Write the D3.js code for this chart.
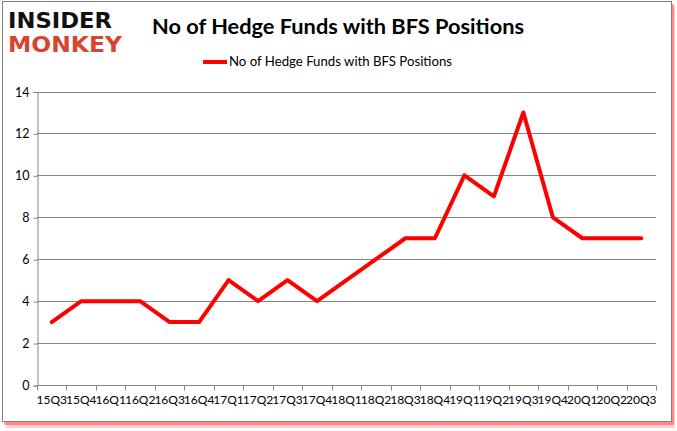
<!DOCTYPE html>
<html><head><meta charset="utf-8">
<script src="https://cdn.jsdelivr.net/npm/d3@7"></script>
<style>body{margin:0;background:#fff}svg{display:block}</style>
</head><body>
<script>
const categories = ["15Q3","15Q4","16Q1","16Q2","16Q3","16Q4","17Q1","17Q2","17Q3","17Q4","18Q1","18Q2","18Q3","18Q4","19Q1","19Q2","19Q3","19Q4","20Q1","20Q2","20Q3"];
const values = [3,4,4,4,3,3,5,4,5,4,5,6,7,7,10,9,13,8,7,7,7];
const yTicks = [0,2,4,6,8,10,12,14];
const title = "No of Hedge Funds with BFS Positions";
const seriesName = "No of Hedge Funds with BFS Positions";

const W = 677, H = 431;
const svg = d3.select("body").append("svg").attr("width", W).attr("height", H);
const font = "Lato, 'Open Sans', sans-serif";

// shadow + frame
svg.append("rect").attr("x",6).attr("y",6).attr("width",669).attr("height",422).attr("fill","#ffb0b0").attr("opacity",0.6);
svg.append("rect").attr("x",4).attr("y",4).attr("width",670).attr("height",421).attr("fill","#ff3030").attr("opacity",0.45);
svg.append("rect").attr("x",2.5).attr("y",1.5).attr("width",669).attr("height",420).attr("fill","#fff").attr("stroke","#808080").attr("stroke-width",1);

// logo
svg.append("text").attr("x",8).attr("y",28).attr("font-family","'DejaVu Sans', sans-serif").attr("font-weight","bold")
  .attr("font-size",22).attr("textLength",104).attr("lengthAdjust","spacingAndGlyphs").attr("fill","#111").text("INSIDER");
svg.append("text").attr("x",8).attr("y",52).attr("font-family","'DejaVu Sans', sans-serif").attr("font-weight","bold")
  .attr("font-size",22).attr("textLength",114).attr("lengthAdjust","spacingAndGlyphs").attr("fill","#d9442e").text("MONKEY");

// title
svg.append("text").attr("x",152).attr("y",34).attr("font-family",font)
  .attr("font-weight","bold").attr("font-size",21.5).attr("textLength",372).attr("lengthAdjust","spacingAndGlyphs")
  .attr("fill","#000").text(title);

const x = d3.scaleBand().domain(categories).range([37,656]);
const y = d3.scaleLinear().domain([0,14]).range([385,91.5]);

// legend
svg.append("line").attr("x1",203).attr("x2",227).attr("y1",62).attr("y2",62).attr("stroke","#ff0000").attr("stroke-width",4);
svg.append("text").attr("x",229).attr("y",66).attr("font-family",font).attr("font-size",12.5)
  .attr("textLength",223).attr("lengthAdjust","spacingAndGlyphs").attr("fill","#000").text(seriesName);

// grid
svg.append("g").selectAll("line").data(yTicks.filter(d=>d>0)).join("line")
  .attr("x1",37).attr("x2",656).attr("y1",d=>Math.round(y(d))+0.5).attr("y2",d=>Math.round(y(d))+0.5)
  .attr("stroke","#868686").attr("stroke-width",1);

// y axis
const ya = svg.append("g").attr("transform","translate(37.5,0.5)")
  .call(d3.axisLeft(y).tickValues(yTicks).tickSize(4).tickPadding(4).tickFormat(d3.format("d")));
ya.select(".domain").attr("stroke","#868686");
ya.selectAll(".tick line").attr("stroke","#868686");
ya.selectAll("text").attr("font-family",font).attr("font-size",12.5).attr("fill","#000");

// x axis
const xa = svg.append("g").attr("transform","translate(0,385.5)")
  .call(d3.axisBottom(x).tickSize(0).tickPadding(10));
xa.select(".domain").attr("stroke","#868686").attr("d","M37,0H656");
xa.selectAll("text").attr("font-family",font).attr("font-size",12).attr("fill","#000");
const edges = categories.map(c=>x(c)).concat([656]);
xa.append("g").selectAll("line").data(edges).join("line")
  .attr("x1",d=>Math.round(d)+0.5).attr("x2",d=>Math.round(d)+0.5).attr("y1",0).attr("y2",5).attr("stroke","#868686");

// line
svg.append("path").datum(values.map((v,i)=>[categories[i],v]))
  .attr("fill","none").attr("stroke","#ff0000").attr("stroke-width",4).attr("stroke-linejoin","round").attr("stroke-linecap","round")
  .attr("d", d3.line().x(d=>x(d[0])+x.bandwidth()/2).y(d=>y(d[1])));
</script>
</body></html>
